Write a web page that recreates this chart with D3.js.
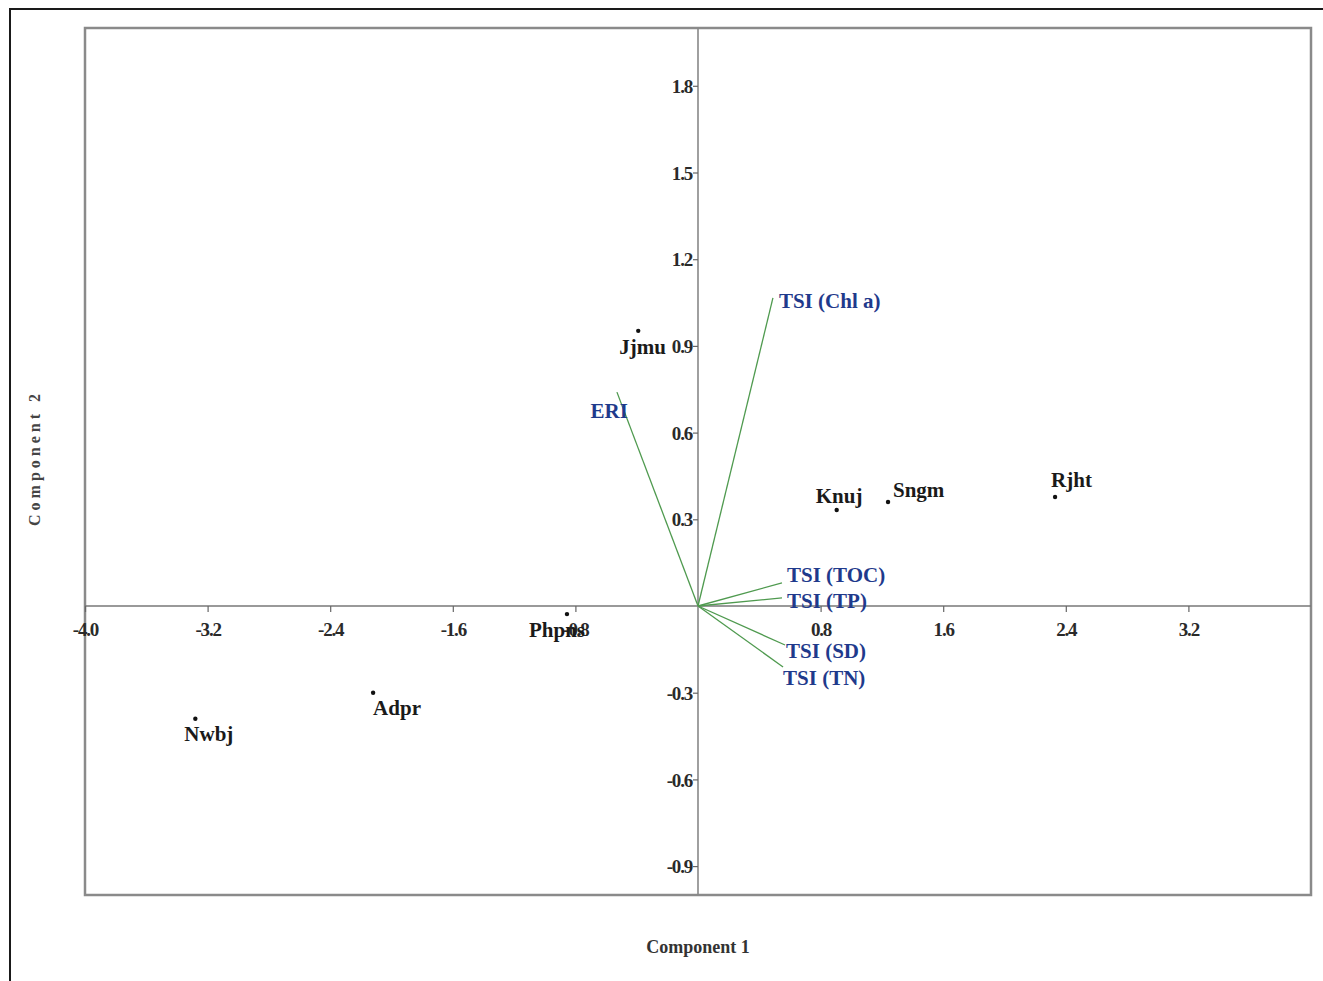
<!DOCTYPE html>
<html>
<head>
<meta charset="utf-8">
<script src="https://cdn.jsdelivr.net/npm/d3@7"></script>
<style>
  body { margin: 0; background: #fff; }
  svg { display: block; }
  text { font-family: "Liberation Serif", "DejaVu Serif", serif; }
</style>
</head>
<body>
<svg id="chart" width="1323" height="981"></svg>
<script>
// sites (scores)
var sites = ["Jjmu", "Phpns", "Knuj", "Sngm", "Rjht", "Adpr", "Nwbj"];
var siteX = [-0.39, -0.855, 0.905, 1.24, 2.33, -2.12, -3.28];
var siteY = [0.952, -0.028, 0.332, 0.36, 0.377, -0.30, -0.39];

// variables (loadings)
var vars = ["TSI (Chl a)", "ERI", "TSI (TOC)", "TSI (TP)", "TSI (SD)", "TSI (TN)"];
var varX = [0.489, -0.529, 0.548, 0.548, 0.568, 0.555];
var varY = [1.066, 0.740, 0.080, 0.028, -0.135, -0.211];

var xTicks = [-4.0, -3.2, -2.4, -1.6, -0.8, 0.8, 1.6, 2.4, 3.2];
var yTicks = [-0.9, -0.6, -0.3, 0.3, 0.6, 0.9, 1.2, 1.5, 1.8];

// label placement (pixels from the mark)
var siteLab = [[-19, 23], [-38, 23], [-21, -7], [5, -5], [-4, -10], [0, 22], [-11, 22]];
var varLab = [[6, 10, "start"], [11, 26, "end"], [5, -1, "start"], [5, 10, "start"], [1, 13, "start"], [0, 18, "start"]];

var svg = d3.select("#chart");

var x = d3.scaleLinear().domain([-4, 4]).range([85, 1311]);
var y = d3.scaleLinear().domain([-1, 2]).range([895, 28]);

// outer border
svg.append("rect")
  .attr("x", 10).attr("y", 9)
  .attr("width", 1400).attr("height", 1100)
  .attr("fill", "none").attr("stroke", "#1a1a1a").attr("stroke-width", 2);

// plot frame
svg.append("rect")
  .attr("x", x(-4)).attr("y", y(2))
  .attr("width", x(4) - x(-4)).attr("height", y(-1) - y(2))
  .attr("fill", "#fff").attr("stroke", "#8a8a8a").attr("stroke-width", 2.5);

// zero lines
svg.append("line")
  .attr("x1", x(-4)).attr("x2", x(4))
  .attr("y1", y(0)).attr("y2", y(0))
  .attr("stroke", "#777").attr("stroke-width", 1.6);
svg.append("line")
  .attr("x1", x(0)).attr("x2", x(0))
  .attr("y1", y(2)).attr("y2", y(-1))
  .attr("stroke", "#888").attr("stroke-width", 1.6);

var fmt = function (d) { return d3.format(".1f")(d).replace("\u2212", "-"); };

var xAxis = svg.append("g")
  .attr("transform", "translate(0," + y(0) + ")")
  .call(d3.axisBottom(x).tickValues(xTicks).tickFormat(fmt).tickSize(6).tickPadding(11));
var yAxis = svg.append("g")
  .attr("transform", "translate(" + x(0) + ",0)")
  .call(d3.axisLeft(y).tickValues(yTicks).tickFormat(fmt).tickSize(5).tickPadding(1));

[xAxis, yAxis].forEach(function (a) {
  a.select(".domain").remove();
  a.selectAll(".tick line").attr("stroke", "#666").attr("stroke-width", 1.2);
  a.selectAll(".tick text")
    .attr("fill", "#2a2a2a")
    .style("font-family", "'Liberation Serif', serif")
    .style("font-size", "19px")
    .style("font-weight", "bold")
    .style("letter-spacing", "-1.2px");
});
yAxis.selectAll(".tick text").attr("dy", "0.35em");

// loading vectors
var vg = svg.append("g");
vars.forEach(function (name, i) {
  vg.append("line")
    .attr("x1", x(0)).attr("y1", y(0))
    .attr("x2", x(varX[i])).attr("y2", y(varY[i]))
    .attr("stroke", "#4f9a4f").attr("stroke-width", 1.3);
});
vars.forEach(function (name, i) {
  vg.append("text")
    .attr("x", x(varX[i]) + varLab[i][0])
    .attr("y", y(varY[i]) + varLab[i][1])
    .attr("text-anchor", varLab[i][2])
    .attr("fill", "#1f3a8c")
    .style("font-size", "21px")
    .style("font-weight", "bold")
    .text(name);
});

// site scores
var sg = svg.append("g");
sites.forEach(function (name, i) {
  sg.append("circle")
    .attr("cx", x(siteX[i])).attr("cy", y(siteY[i]))
    .attr("r", 2.2).attr("fill", "#111");
  sg.append("text")
    .attr("x", x(siteX[i]) + siteLab[i][0])
    .attr("y", y(siteY[i]) + siteLab[i][1])
    .attr("fill", "#1a1a1a")
    .style("font-size", "21px")
    .style("font-weight", "bold")
    .text(name);
});

// axis titles
svg.append("text")
  .attr("x", x(0)).attr("y", 953)
  .attr("text-anchor", "middle")
  .attr("fill", "#333")
  .style("font-size", "18px")
  .style("font-weight", "bold")
  .text("Component 1");

svg.append("text")
  .attr("transform", "translate(40,458) rotate(-90)")
  .attr("text-anchor", "middle")
  .attr("fill", "#444")
  .style("font-size", "16px")
  .style("font-weight", "bold")
  .style("letter-spacing", "4px")
  .text("Component 2");
</script>
</body>
</html>
